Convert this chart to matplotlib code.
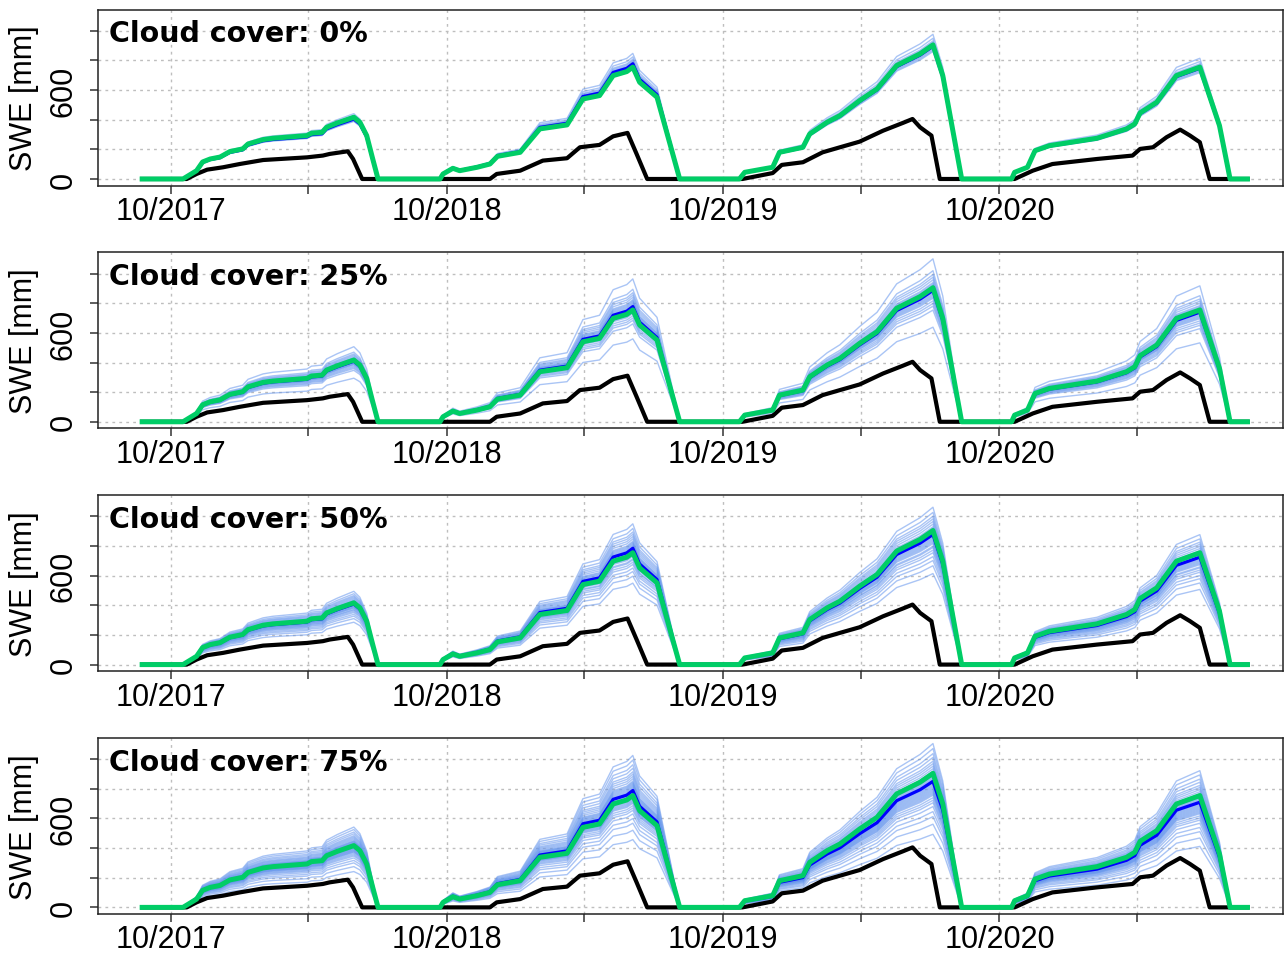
import numpy as np
import matplotlib
matplotlib.use('Agg')
import matplotlib.pyplot as plt

# days are counted from 01/10/2017
base = np.datetime64('2017-10-01')

# reference run (green)
green_day = [-38, 16, 34, 42, 52, 65, 78, 95, 102, 122,
             135, 180, 186, 200, 206, 220, 233, 242, 250, 259,
             267, 274, 356, 360, 373, 382, 405, 422, 432, 462,
             488, 524, 545, 567, 585, 603, 611, 620, 643, 673,
             752, 759, 796, 805, 836, 845, 868, 885, 911, 934,
             960, 991, 1008, 1021, 1046, 1112, 1116, 1133, 1143, 1162,
             1225, 1264, 1275, 1282, 1304, 1330, 1361, 1387, 1401, 1424]
green_swe = [0, 0, 56, 115, 135, 148, 185, 203, 236, 266,
             275, 293, 309, 315, 349, 378, 401, 417, 383, 293,
             135, 0, 0, 34, 72, 56, 79, 101, 153, 180,
             338, 365, 540, 563, 698, 725, 755, 653, 552, 0,
             0, 45, 79, 180, 214, 304, 383, 428, 529, 608,
             766, 845, 905, 698, 0, 0, 45, 79, 191, 225,
             275, 338, 372, 446, 518, 698, 755, 360, 0, 0]

# open-loop run (black)
black_day = [-38, 21, 34, 48, 69, 91, 122, 180, 201, 210,
             234, 241, 253, 422, 431, 462, 492, 524, 541, 567,
             585, 604, 616, 630, 756, 796, 808, 836, 862, 885,
             911, 942, 968, 981, 991, 1006, 1017, 1116, 1140, 1166,
             1225, 1272, 1282, 1299, 1317, 1335, 1348, 1361, 1374, 1424]
black_swe = [0, 0, 34, 63, 79, 101, 128, 146, 158, 169,
             187, 135, 0, 0, 34, 56, 124, 140, 214, 230,
             288, 311, 169, 0, 0, 40, 95, 113, 180, 214,
             252, 326, 378, 405, 349, 293, 0, 0, 56, 101,
             135, 158, 203, 214, 282, 333, 293, 248, 0, 0]

panel_titles = ['Cloud cover: 0%', 'Cloud cover: 25%',
                'Cloud cover: 50%', 'Cloud cover: 75%']

# ensemble mean relative to the green run, per snow season 2018..2021
mean_ratio = [[0.97, 1.03, 0.99, 0.99],
              [0.98, 1.03, 0.98, 0.98],
              [0.98, 1.04, 0.97, 0.96],
              [1.00, 1.045, 0.94, 0.94]]

# ensemble members relative to the ensemble mean
member_factor = [
    [0.96, 0.97, 0.98, 0.99, 0.99, 1.0, 1.01, 1.01, 1.02, 1.03, 1.04, 1.06, 1.09],
    [0.72, 0.85, 0.88, 0.9, 0.92, 0.94, 0.95, 0.96, 0.97, 0.98, 0.99, 1.0,
     1.01, 1.02, 1.03, 1.04, 1.05, 1.06, 1.08, 1.1, 1.12, 1.15, 1.24],
    [0.7, 0.76, 0.8, 0.83, 0.86, 0.88, 0.9, 0.91, 0.93, 0.94, 0.95, 0.96,
     0.97, 0.98, 0.99, 1.0, 1.01, 1.02, 1.03, 1.04, 1.05, 1.06, 1.08, 1.1,
     1.12, 1.14, 1.17, 1.21],
    [0.58, 0.66, 0.72, 0.76, 0.8, 0.83, 0.85, 0.87, 0.89, 0.9, 0.91, 0.92,
     0.93, 0.94, 0.95, 0.96, 0.97, 0.98, 0.99, 1.0, 1.01, 1.02, 1.03, 1.04,
     1.05, 1.06, 1.07, 1.08, 1.1, 1.12, 1.14, 1.16, 1.19, 1.22, 1.26, 1.3],
]

tick_day = [0, 182, 365, 547, 730, 913, 1096, 1278]
tick_lab = ['10/2017', '', '10/2018', '', '10/2019', '', '10/2020', '']


def to_dates(days):
    return base + np.array(days).astype('timedelta64[D]')


plt.rcParams['font.family'] = ['Liberation Sans', 'DejaVu Sans']
fig = plt.figure(figsize=(12.85, 9.54), dpi=100)

gdates = to_dates(green_day)
green = np.array(green_swe, dtype=float)
season = np.searchsorted([300, 700, 1080], green_day, side='right')

for i in range(4):
    top = 10.5 + 242.8 * i
    ax = fig.add_axes([98.3 / 1285, 1 - (top + 176) / 954, (1283 - 98.3) / 1285, 176 / 954])

    mean = green * np.array(mean_ratio[i])[season]
    for f in member_factor[i]:
        ax.plot(gdates, mean * f, color='#6495ED', alpha=0.55, lw=1.0)
    ax.plot(gdates, mean, color='#0000FF', lw=2.3)
    ax.plot(to_dates(black_day), black_swe, color='black', lw=3.0)
    ax.plot(gdates, green, color='#00CD66', lw=3.6)

    ax.set_xlim(to_dates([-96])[0], to_dates([1471])[0])
    ax.set_ylim(-44, 1144)
    ax.set_xticks(to_dates(tick_day))
    ax.set_xticklabels(tick_lab)
    ax.set_yticks([0, 200, 400, 600, 800, 1000])
    ax.set_yticklabels(['0', '', '', '600', '', ''], rotation=90, va='center')
    ax.tick_params(direction='out', length=6, width=1.1, labelsize=22, color='#333333')
    ax.tick_params(axis='x', pad=1.5)
    ax.tick_params(axis='y', pad=8)
    ax.grid(True, color='#BEBEBE', linestyle=(0, (2, 3)), lw=1)
    ax.set_axisbelow(True)
    for s in ax.spines.values():
        s.set_linewidth(1.1)
        s.set_color('#222222')
    ax.set_ylabel('SWE [mm]', fontsize=22, labelpad=7)
    ax.text(0.0093, 0.82, panel_titles[i], transform=ax.transAxes, family='DejaVu Sans',
            fontweight='bold', fontsize=20.5, va='baseline', ha='left')

fig.savefig('out.png', dpi=100)
